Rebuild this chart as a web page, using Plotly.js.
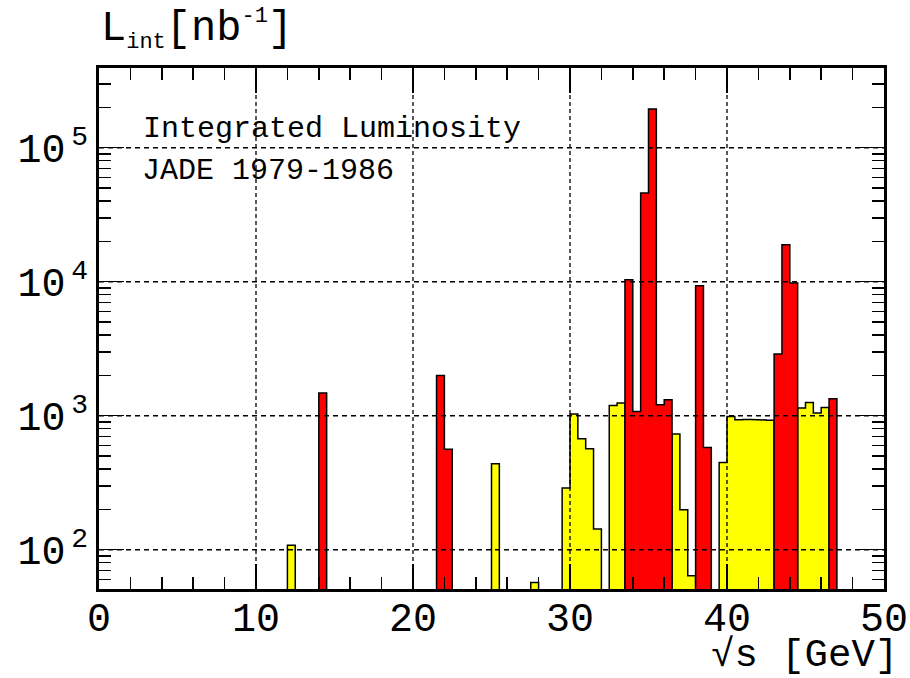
<!DOCTYPE html>
<html>
<head>
<meta charset="utf-8">
<script src="https://cdn.plot.ly/plotly-3.0.1.min.js"></script>
<style>html,body{margin:0;padding:0;background:#fff;}#chart{width:910px;height:678px;}</style>
</head>
<body>
<div id="chart"></div>
<script>
// ---- data ----
var binWidth = 0.5; // GeV
// lower bin edges (GeV) and integrated luminosity (nb^-1)
var yellowLow  = [12.0, 25.0, 27.5, 29.5, 30.0, 30.5, 31.0, 31.5, 32.5, 33.0, 36.5, 37.0, 37.5, 39.5, 40.0, 40.5, 41.0, 41.5, 42.0, 42.5, 44.5, 45.0, 45.5, 46.0];
var yellowLumi = [108, 438, 57, 289, 1030, 674, 567, 143, 1194, 1244, 730, 199, 64, 448, 988, 935, 938, 940, 930, 925, 1141, 1257, 1048, 1153];
var redLow  = [14.0, 21.5, 22.0, 33.5, 34.0, 34.5, 35.0, 35.5, 36.0, 38.0, 38.5, 43.0, 43.5, 44.0, 46.5];
var redLumi = [1477, 2000, 561, 10350, 1077, 45900, 194500, 1208, 1316, 9330, 580, 2886, 18900, 9780, 1340];

var xTickVals = [0, 10, 20, 30, 40, 50];
var xTickText = ['0', '10', '20', '30', '40', '50'];
var yTickVals = [100, 1000, 10000, 100000];
var yTickText = ['10<sup>\u20092</sup>', '10<sup>\u20093</sup>', '10<sup>\u20094</sup>', '10<sup>\u20095</sup>'];

var labelLine1 = 'Integrated Luminosity';
var labelLine2 = 'JADE 1979-1986';
var yTitle = 'L<sub><span style="font-size:22px">int</span></sub>[nb<sup><span style="font-size:22px">-1</span></sup>]';
var xTitle = '\u221As [GeV]';

// ---- build histogram outlines (step polygons) from the data ----
function histPolygon(lows, vals, w, base) {
  var xs = [], ys = [];
  for (var i = 0; i < lows.length; i++) {
    var lo = lows[i], hi = lo + w;
    var startRun = (i === 0) || Math.abs(lows[i - 1] + w - lo) > 1e-9;
    if (startRun) {
      if (i > 0) { xs.push(null); ys.push(null); }
      xs.push(lo); ys.push(base);
    }
    xs.push(lo); ys.push(vals[i]);
    xs.push(hi); ys.push(vals[i]);
    var endRun = (i === lows.length - 1) || Math.abs(lows[i + 1] - hi) > 1e-9;
    if (endRun) { xs.push(hi); ys.push(base); }
  }
  return {x: xs, y: ys};
}

var base = 1; // below the visible range of the log axis
var yp = histPolygon(yellowLow, yellowLumi, binWidth, base);
var rp = histPolygon(redLow, redLumi, binWidth, base);

var FONT = '"Liberation Mono", "Courier New", Courier, monospace';

var traces = [
  {x: yp.x, y: yp.y, type: 'scatter', mode: 'lines', fill: 'toself', fillcolor: '#ffff00',
   line: {color: '#000', width: 1.5}, connectgaps: false, hoverinfo: 'skip', showlegend: false},
  {x: rp.x, y: rp.y, type: 'scatter', mode: 'lines', fill: 'toself', fillcolor: '#ff0000',
   line: {color: '#000', width: 1.5}, connectgaps: false, hoverinfo: 'skip', showlegend: false}
];

// grid lines drawn above the histograms (as in the reference)
var gridX = [10, 20, 30, 40];
var gridY = [100, 1000, 10000, 100000];
var shapes = [];
gridX.forEach(function (v) {
  shapes.push({type: 'line', layer: 'above', xref: 'x', yref: 'paper', x0: v, x1: v, y0: 0, y1: 1,
    line: {color: '#000', width: 1.3, dash: '4px,3px'}});
});
gridY.forEach(function (v) {
  shapes.push({type: 'line', layer: 'above', xref: 'paper', yref: 'y', x0: 0, x1: 1,
    y0: v, y1: v, line: {color: '#000', width: 1.3, dash: '5px,4px'}});
});

var layout = {
  width: 910, height: 678,
  margin: {l: 99, r: 26, t: 68, b: 89, pad: 0},
  paper_bgcolor: '#fff', plot_bgcolor: '#fff',
  showlegend: false,
  font: {family: FONT, color: '#000'},
  xaxis: {
    range: [0, 50], tickmode: 'array', tickvals: xTickVals, ticktext: xTickText,
    ticks: 'inside', ticklen: 25, tickwidth: 1.5, tickcolor: '#000',
    minor: {dtick: 2, ticks: 'inside', ticklen: 12, tickwidth: 1.5, tickcolor: '#000'},
    showline: true, linewidth: 3, linecolor: '#000', mirror: 'ticks',
    showgrid: false, zeroline: false, layer: 'above traces',
    ticklabelstandoff: -9,
    tickfont: {family: FONT, size: 40, color: '#000'}
  },
  yaxis: {
    type: 'log', range: [1.707, 5.595], tickmode: 'array', tickvals: yTickVals, ticktext: yTickText,
    ticks: 'inside', ticklen: 25, tickwidth: 1.5, tickcolor: '#000',
    minor: {dtick: 'D1', ticks: 'inside', ticklen: 12, tickwidth: 1.5, tickcolor: '#000'},
    showline: true, linewidth: 3, linecolor: '#000', mirror: 'ticks',
    showgrid: false, zeroline: false, layer: 'above traces',
    tickfont: {family: FONT, size: 40, color: '#000'}
  },
  shapes: shapes,
  annotations: [
    {text: yTitle, xref: 'paper', yref: 'paper', x: 0, y: 1.022, xanchor: 'left', yanchor: 'bottom',
     showarrow: false, font: {family: FONT, size: 42, color: '#000'}},
    {text: xTitle, xref: 'paper', yref: 'paper', x: 1.02, y: -0.083, xanchor: 'right', yanchor: 'top',
     showarrow: false, font: {family: FONT, size: 39, color: '#000'}},
    {text: labelLine1, xref: 'paper', yref: 'paper', x: 0.053, y: 0.883, xanchor: 'left', yanchor: 'middle',
     showarrow: false, font: {family: FONT, size: 30, color: '#000'}},
    {text: labelLine2, xref: 'paper', yref: 'paper', x: 0.052, y: 0.802, xanchor: 'left', yanchor: 'middle',
     showarrow: false, font: {family: FONT, size: 30, color: '#000'}}
  ]
};

Plotly.newPlot('chart', traces, layout, {staticPlot: true, displayModeBar: false});
</script>
</body>
</html>
